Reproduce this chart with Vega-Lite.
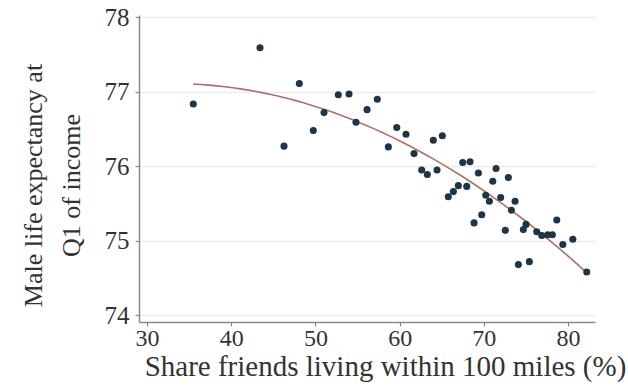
{
  "$schema": "https://vega.github.io/schema/vega-lite/v6.json",
  "autosize": "none",
  "width": 456,
  "height": 307,
  "padding": {"left": 139, "top": 15, "right": 33, "bottom": 67},
  "background": "white",
  "config": {
    "view": {"stroke": null},
    "font": "Liberation Serif",
    "axis": {
      "labelFont": "Liberation Serif",
      "titleFont": "Liberation Serif",
      "labelFontSize": 25,
      "labelColor": "#333333",
      "titleColor": "#333333",
      "titleFontWeight": "normal",
      "domainColor": "#8a8a8a",
      "domainWidth": 1.5,
      "tickColor": "#8a8a8a",
      "tickSize": 4,
      "tickWidth": 1.2
    }
  },
  "data": {
    "values": [
      {"share": 35.50, "le": 76.835},
      {"share": 43.42, "le": 77.59},
      {"share": 48.09, "le": 77.11},
      {"share": 46.27, "le": 76.27},
      {"share": 49.75, "le": 76.48},
      {"share": 51.02, "le": 76.72},
      {"share": 52.72, "le": 76.96},
      {"share": 53.99, "le": 76.97},
      {"share": 57.35, "le": 76.90},
      {"share": 54.82, "le": 76.59},
      {"share": 56.13, "le": 76.76},
      {"share": 58.66, "le": 76.26},
      {"share": 59.66, "le": 76.52},
      {"share": 60.76, "le": 76.43},
      {"share": 61.71, "le": 76.17},
      {"share": 62.62, "le": 75.95},
      {"share": 63.29, "le": 75.89},
      {"share": 64.00, "le": 76.35},
      {"share": 65.07, "le": 76.41},
      {"share": 64.44, "le": 75.95},
      {"share": 65.78, "le": 75.59},
      {"share": 66.38, "le": 75.66},
      {"share": 66.97, "le": 75.74},
      {"share": 67.97, "le": 75.73},
      {"share": 67.49, "le": 76.05},
      {"share": 68.36, "le": 76.06},
      {"share": 69.35, "le": 75.91},
      {"share": 71.45, "le": 75.97},
      {"share": 71.06, "le": 75.80},
      {"share": 72.91, "le": 75.85},
      {"share": 70.23, "le": 75.61},
      {"share": 70.66, "le": 75.53},
      {"share": 72.00, "le": 75.58},
      {"share": 73.71, "le": 75.53},
      {"share": 73.27, "le": 75.41},
      {"share": 68.84, "le": 75.24},
      {"share": 69.75, "le": 75.35},
      {"share": 72.55, "le": 75.14},
      {"share": 74.69, "le": 75.15},
      {"share": 75.01, "le": 75.22},
      {"share": 76.28, "le": 75.12},
      {"share": 76.88, "le": 75.07},
      {"share": 77.59, "le": 75.08},
      {"share": 78.14, "le": 75.08},
      {"share": 78.66, "le": 75.28},
      {"share": 79.38, "le": 74.95},
      {"share": 80.57, "le": 75.02},
      {"share": 74.10, "le": 74.68},
      {"share": 75.40, "le": 74.72},
      {"share": 82.22, "le": 74.58}
    ]
  },
  "layer": [
    {
      "transform": [
        {"regression": "le", "on": "share", "method": "quad", "extent": [35.5, 82.22]}
      ],
      "mark": {"type": "line", "color": "#a8726c", "strokeWidth": 1.6, "clip": true},
      "encoding": {
        "x": {"field": "share", "type": "quantitative"},
        "y": {"field": "le", "type": "quantitative"}
      }
    },
    {
      "mark": {"type": "circle", "color": "#1d3449", "opacity": 1, "size": 50},
      "encoding": {
        "x": {
          "field": "share",
          "type": "quantitative",
          "scale": {"domain": [29.05, 83.2], "nice": false, "zero": false},
          "axis": {
            "values": [30, 40, 50, 60, 70, 80],
            "format": "d",
            "grid": false,
            "title": "Share friends living within 100 miles (%)",
            "titleFontSize": 29,
            "titleX": 246,
            "labelPadding": 0,
            "labelFontSize": 24,
            "titlePadding": 2
          }
        },
        "y": {
          "field": "le",
          "type": "quantitative",
          "scale": {"domain": [73.91, 78.03], "nice": false, "zero": false},
          "axis": {
            "values": [74, 75, 76, 77, 78],
            "format": "d",
            "grid": true,
            "gridColor": "#ececec",
            "gridWidth": 1.5,
            "title": ["Male life expectancy at", "Q1 of income"],
            "titleFontSize": 26,
            "titleLineHeight": 38,
            "titleY": 170,
            "labelPadding": 6,
            "titlePadding": 20
          }
        }
      }
    }
  ]
}
